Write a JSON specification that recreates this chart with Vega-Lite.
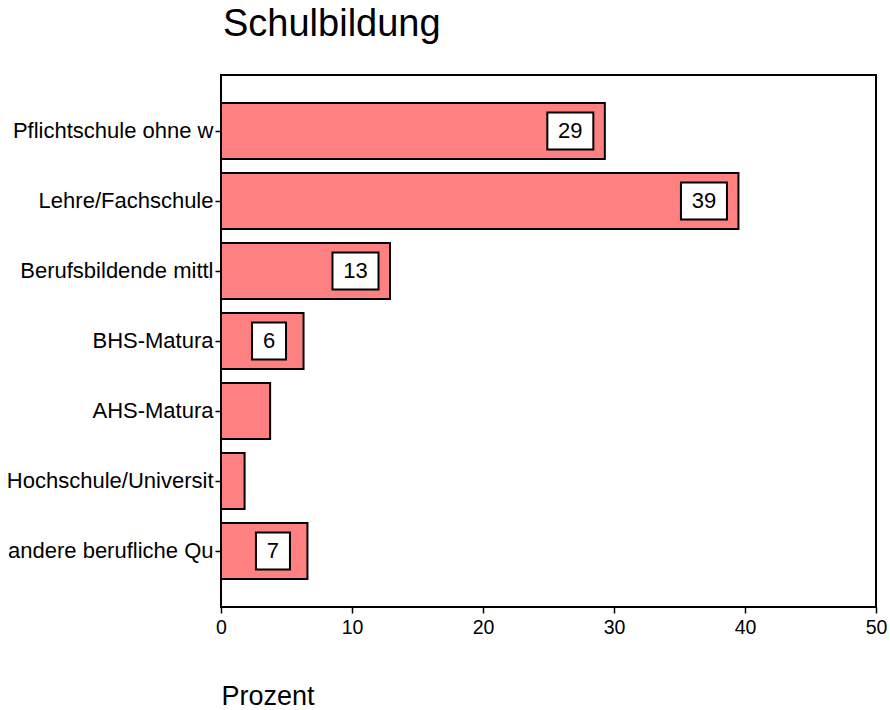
{
  "$schema": "https://vega.github.io/schema/vega-lite/v6.json",
  "autosize": "none",
  "padding": {"left": 221, "top": 75, "right": 14, "bottom": 103},
  "width": 655,
  "height": 532,
  "background": "white",
  "config": {
    "font": "Liberation Sans",
    "view": {"stroke": "black", "strokeWidth": 2},
    "axis": {"grid": false, "domainColor": "black", "tickColor": "black", "labelColor": "black", "titleColor": "black", "domainWidth": 2, "tickWidth": 1.5, "tickSize": 6}
  },
  "title": {"text": "Schulbildung", "anchor": "start", "frame": "group", "fontSize": 38, "fontWeight": "normal", "color": "black", "baseline": "alphabetic", "offset": 1, "dx": 2},
  "data": {"values": [
    {"kategorie": "Pflichtschule ohne w\u00a0", "prozent": 29.3, "label": "29"},
    {"kategorie": "Lehre/Fachschule", "prozent": 39.5, "label": "39"},
    {"kategorie": "Berufsbildende mittl", "prozent": 12.9, "label": "13"},
    {"kategorie": "BHS-Matura", "prozent": 6.3, "label": "6"},
    {"kategorie": "AHS-Matura", "prozent": 3.75, "label": null},
    {"kategorie": "Hochschule/Universit", "prozent": 1.8, "label": null},
    {"kategorie": "andere berufliche Qu", "prozent": 6.6, "label": "7"}
  ]},
  "encoding": {
    "y": {"field": "kategorie", "type": "nominal", "sort": null,
      "scale": {"paddingInner": 0.2, "paddingOuter": 0.4},
      "axis": {"title": null, "labelFontSize": 22, "labelPadding": 2, "labelLimit": 0, "domain": false}},
    "x": {"field": "prozent", "type": "quantitative", "scale": {"domain": [0, 50], "nice": false},
      "axis": {"values": [0, 10, 20, 30, 40, 50], "title": "Prozent", "labelFontSize": 19.5, "labelFlush": false, "labelPadding": 5, "titleFontSize": 27, "titleFontWeight": "normal", "titleAnchor": "start", "titleAlign": "left", "titleBaseline": "alphabetic", "titleX": 0, "titleY": 97, "domain": false}}
  },
  "layer": [
    {
      "mark": {"type": "bar", "color": "#FF8080", "stroke": "black", "strokeWidth": 2}
    },
    {
      "transform": [{"filter": "datum.label != null && length(datum.label) == 2"}],
      "mark": {"type": "rect", "fill": "white", "stroke": "black", "strokeWidth": 2, "height": 37, "xOffset": -57.5, "x2Offset": -11.5},
      "encoding": {
        "x2": {"field": "prozent"}
      }
    },
    {
      "transform": [{"filter": "datum.label != null && length(datum.label) == 1"}],
      "mark": {"type": "rect", "fill": "white", "stroke": "black", "strokeWidth": 2, "height": 37, "xOffset": -51.5, "x2Offset": -17.5},
      "encoding": {
        "x2": {"field": "prozent"}
      }
    },
    {
      "transform": [{"filter": "datum.label != null"}],
      "mark": {"type": "text", "fontSize": 22, "color": "black", "dx": -34.5, "align": "center", "baseline": "middle"},
      "encoding": {
        "text": {"field": "label"}
      }
    }
  ]
}
